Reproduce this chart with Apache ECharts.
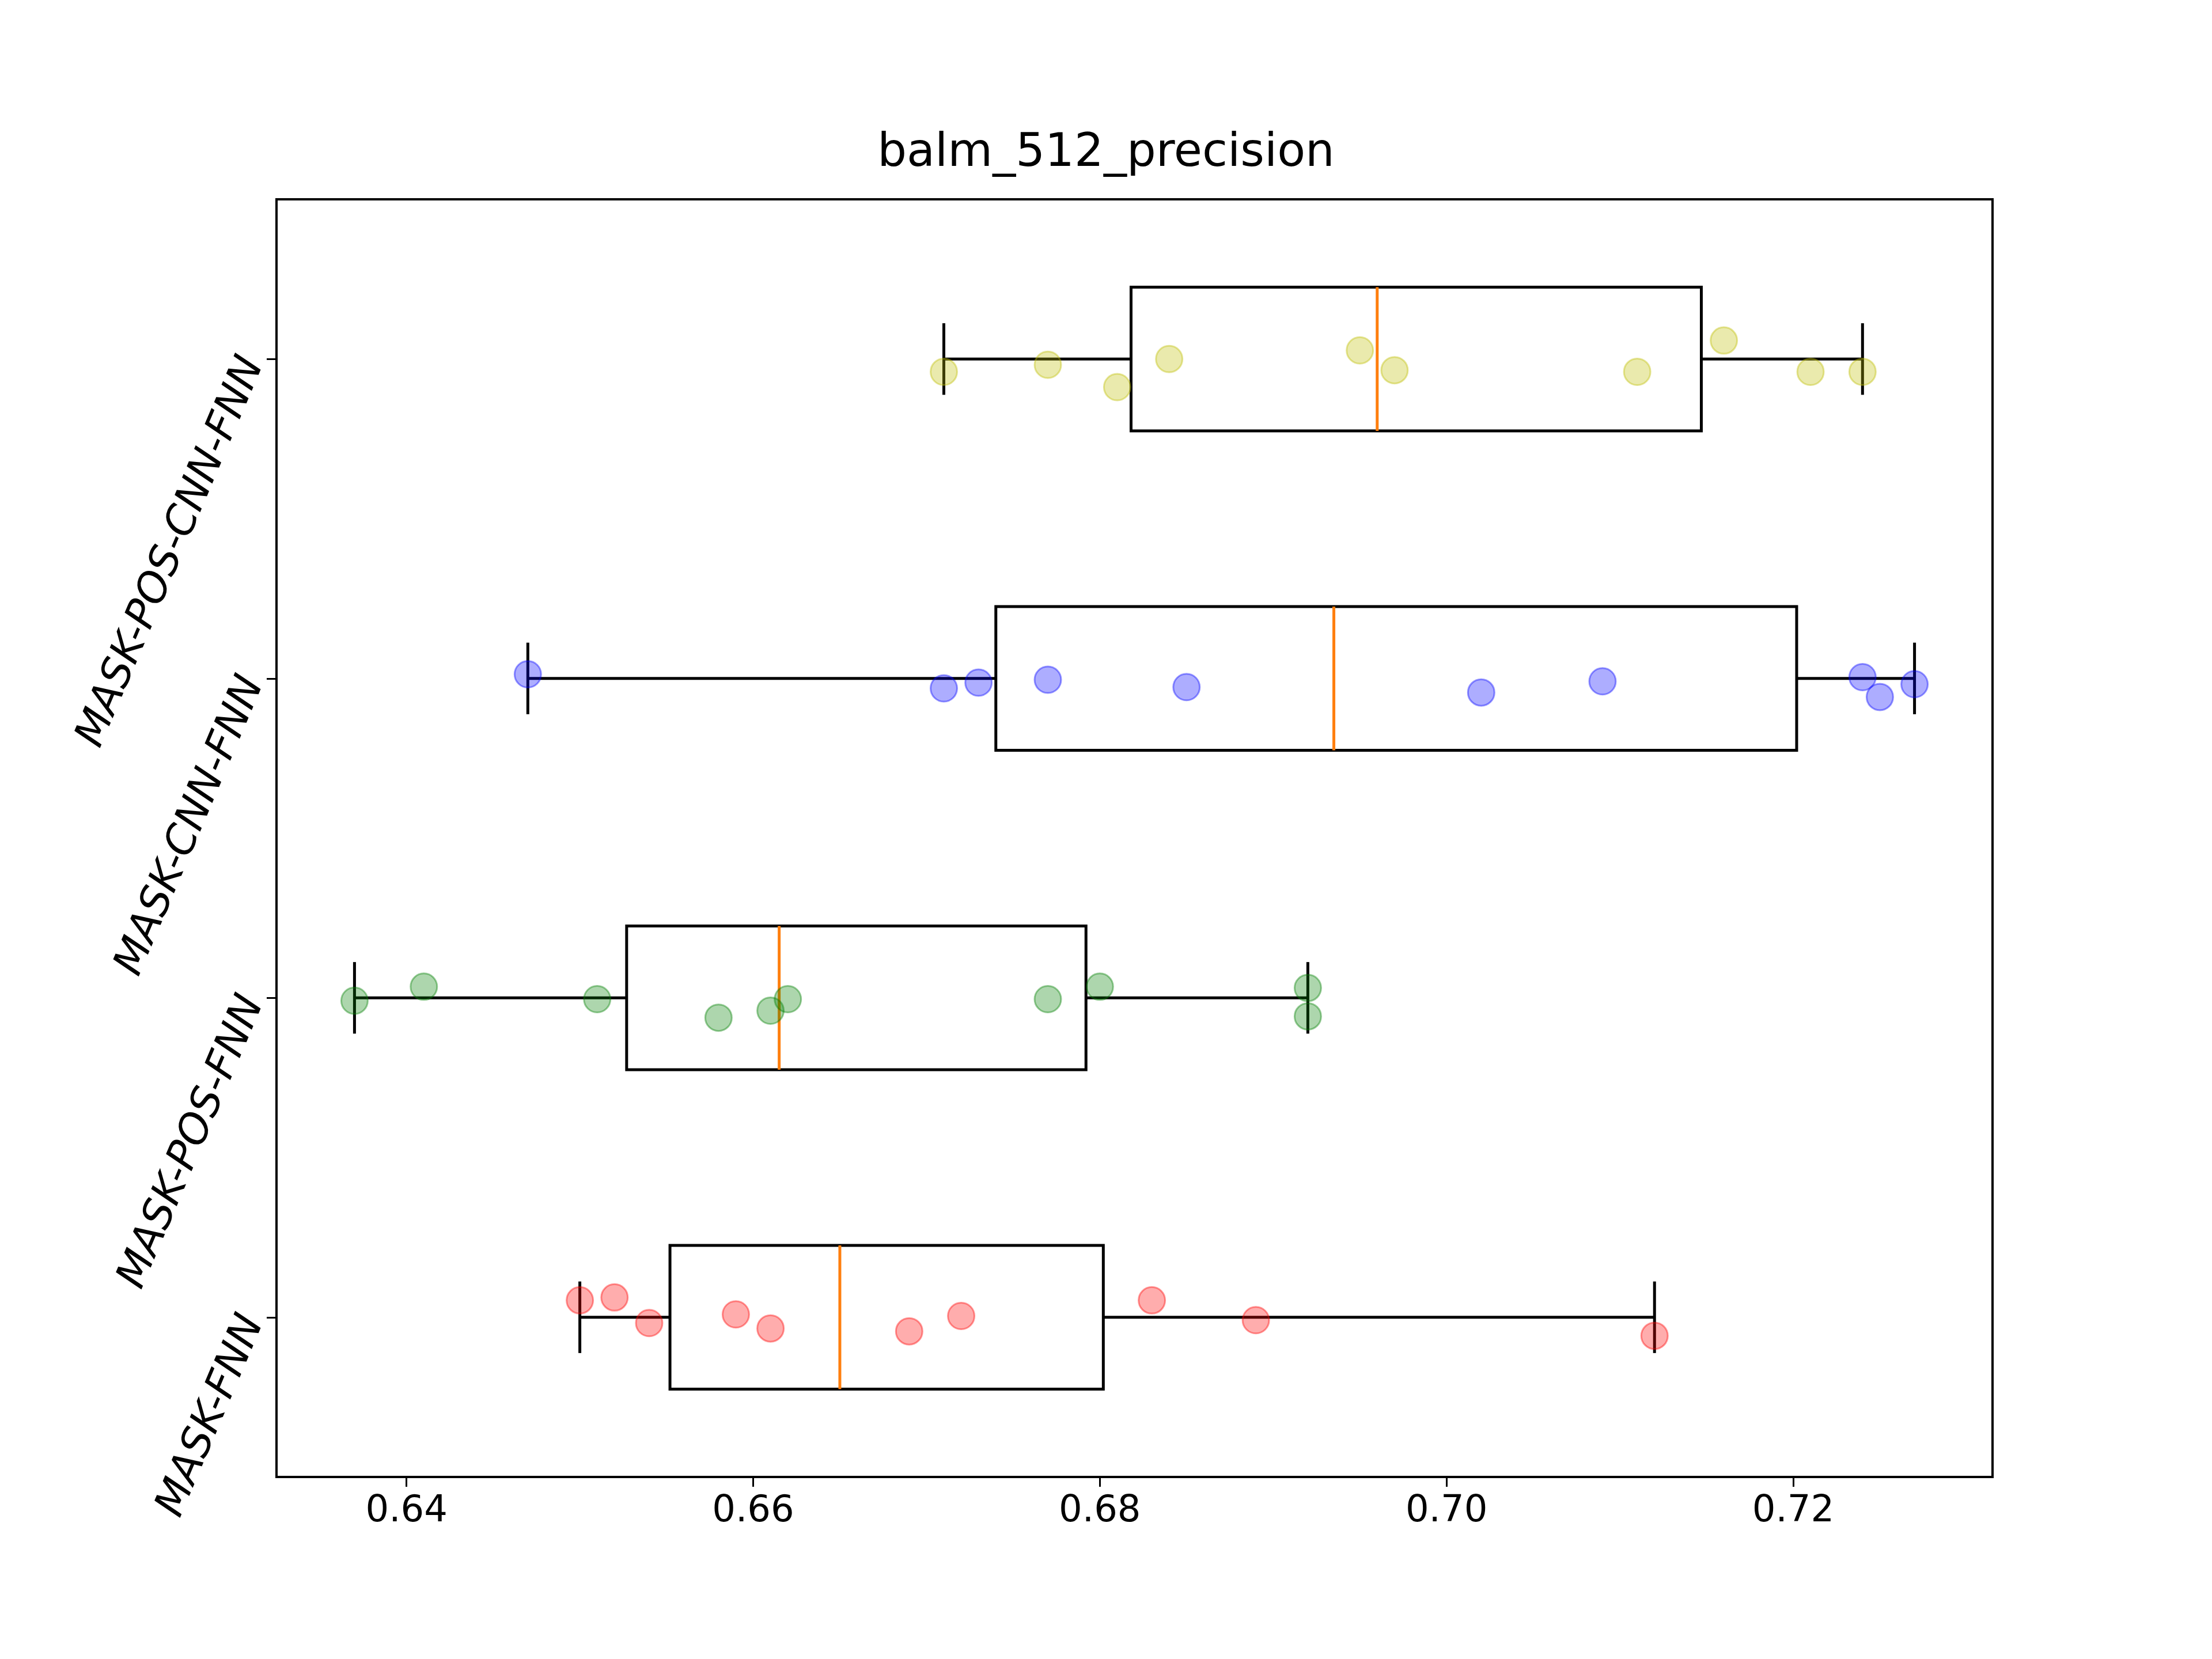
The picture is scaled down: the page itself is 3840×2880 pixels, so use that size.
<!DOCTYPE html>
<html>
<head>
<meta charset="utf-8">
<script src="https://cdn.jsdelivr.net/npm/echarts@6/dist/echarts.min.js"></script>
<style>html,body{margin:0;padding:0;background:#fff}#chart{width:3840px;height:2880px}</style>
</head>
<body>
<div id="chart"></div>
<script>
var categories = ['MASK-FNN', 'MASK-POS-FNN', 'MASK-CNN-FNN', 'MASK-POS-CNN-FNN'];
var colors = ['rgba(255,0,0,0.4)', 'rgba(0,128,0,0.4)', 'rgba(0,0,255,0.4)', 'rgba(191,191,0,0.4)'];
var edges = ['rgba(255,0,0,0.5)', 'rgba(0,128,0,0.5)', 'rgba(0,0,255,0.5)', 'rgba(191,191,0,0.5)'];
var xTicks = [0.64, 0.66, 0.68, 0.70, 0.72];

// [min, q1, median, q3, max]
var boxStats = [
  [0.650, 0.6552, 0.665, 0.6802, 0.712],
  [0.637, 0.6527, 0.6615, 0.6792, 0.692],
  [0.647, 0.6740, 0.6935, 0.7202, 0.727],
  [0.671, 0.6818, 0.6960, 0.7147, 0.724]
];
var pointsX = [
  [0.650, 0.652, 0.654, 0.659, 0.661, 0.669, 0.672, 0.683, 0.689, 0.712],
  [0.637, 0.641, 0.651, 0.658, 0.661, 0.662, 0.677, 0.680, 0.692, 0.692],
  [0.647, 0.671, 0.673, 0.677, 0.685, 0.702, 0.709, 0.724, 0.725, 0.727],
  [0.671, 0.677, 0.681, 0.684, 0.695, 0.697, 0.711, 0.716, 0.721, 0.724]
];
// vertical jitter in category units (positive = downward)
var jitter = [
  [-0.053, -0.062, 0.018, -0.009, 0.035, 0.044, -0.004, -0.053, 0.009, 0.058],
  [0.009, -0.035, 0.004, 0.062, 0.040, 0.004, 0.004, -0.035, -0.031, 0.058],
  [-0.013, 0.031, 0.013, 0.004, 0.027, 0.044, 0.009, -0.004, 0.058, 0.018],
  [0.040, 0.018, 0.088, 0.000, -0.027, 0.035, 0.040, -0.058, 0.040, 0.040]
];

var G = { left: 480, right: 381, top: 346, bottom: 316 };
var chart = echarts.init(document.getElementById('chart'));
var boxData = boxStats.map(function (s, i) { return [i].concat(s); });

var series = [{
  type: 'custom',
  yAxisIndex: 1,
  z: 2,
  data: boxData,
  renderItem: function (params, api) {
    var c = api.value(0);
    var half = 0.225, cap = 0.112;
    var p = function (x, y) { return api.coord([x, y]); };
    var st = { stroke: '#000', lineWidth: 5, fill: null };
    var lo = api.value(1), q1 = api.value(2), md = api.value(3), q3 = api.value(4), hi = api.value(5);
    var a = p(q1, c - half), b = p(q3, c + half);
    return { type: 'group', children: [
      { type: 'line', shape: { x1: p(lo, c)[0], y1: p(lo, c)[1], x2: p(q1, c)[0], y2: p(q1, c)[1] }, style: st },
      { type: 'line', shape: { x1: p(q3, c)[0], y1: p(q3, c)[1], x2: p(hi, c)[0], y2: p(hi, c)[1] }, style: st },
      { type: 'line', shape: { x1: p(lo, c - cap)[0], y1: p(lo, c - cap)[1], x2: p(lo, c + cap)[0], y2: p(lo, c + cap)[1] }, style: st },
      { type: 'line', shape: { x1: p(hi, c - cap)[0], y1: p(hi, c - cap)[1], x2: p(hi, c + cap)[0], y2: p(hi, c + cap)[1] }, style: st },
      { type: 'rect', shape: { x: a[0], y: Math.min(a[1], b[1]), width: b[0] - a[0], height: Math.abs(b[1] - a[1]) }, style: { stroke: '#000', lineWidth: 5, fill: 'rgba(0,0,0,0)' } },
      { type: 'line', shape: { x1: p(md, c - half)[0], y1: p(md, c - half)[1], x2: p(md, c + half)[0], y2: p(md, c + half)[1] }, style: { stroke: '#ff7f0e', lineWidth: 5 } }
    ] };
  }
}];

pointsX.forEach(function (xs, i) {
  series.push({
    type: 'scatter',
    yAxisIndex: 1,
    z: 3,
    symbolSize: 46,
    itemStyle: { color: colors[i], borderColor: edges[i], borderWidth: 3 },
    data: xs.map(function (x, k) { return [x, i - jitter[i][k]]; })
  });
});

chart.setOption({
  animation: false,
  backgroundColor: '#fff',
  title: {
    text: 'balm_512_precision', left: 'center', top: 222,
    textStyle: { fontFamily: 'DejaVu Sans', fontWeight: 'normal', fontSize: 80, color: '#000' }
  },
  grid: G,
  xAxis: {
    type: 'value', min: 0.6325, max: 0.7315,
    axisLine: { show: true, onZero: false, lineStyle: { color: '#000', width: 4 } },
    splitLine: { show: false },
    axisTick: { show: true, inside: false, length: 17, lineStyle: { color: '#000', width: 3 }, customValues: xTicks },
    axisLabel: { customValues: xTicks, margin: 28, fontSize: 64, fontFamily: 'DejaVu Sans', color: '#000',
      formatter: function (v) { return v.toFixed(2); } }
  },
  yAxis: [{
    type: 'category', data: categories,
    axisLine: { show: true, lineStyle: { color: '#000', width: 4 } },
    axisTick: { show: true, alignWithLabel: true, length: 17, lineStyle: { color: '#000', width: 3 } },
    axisLabel: { rotate: 67, margin: 40, fontSize: 72, fontStyle: 'italic', fontFamily: 'DejaVu Sans', color: '#000' }
  }, {
    type: 'value', min: -0.5, max: 3.5, show: false
  }],
  graphic: [{
    type: 'rect', z: 10, silent: true,
    shape: { x: G.left, y: G.top, width: 3840 - G.left - G.right, height: 2880 - G.top - G.bottom },
    style: { fill: null, stroke: '#000', lineWidth: 4 }
  }],
  series: series
});
</script>
</body>
</html>
